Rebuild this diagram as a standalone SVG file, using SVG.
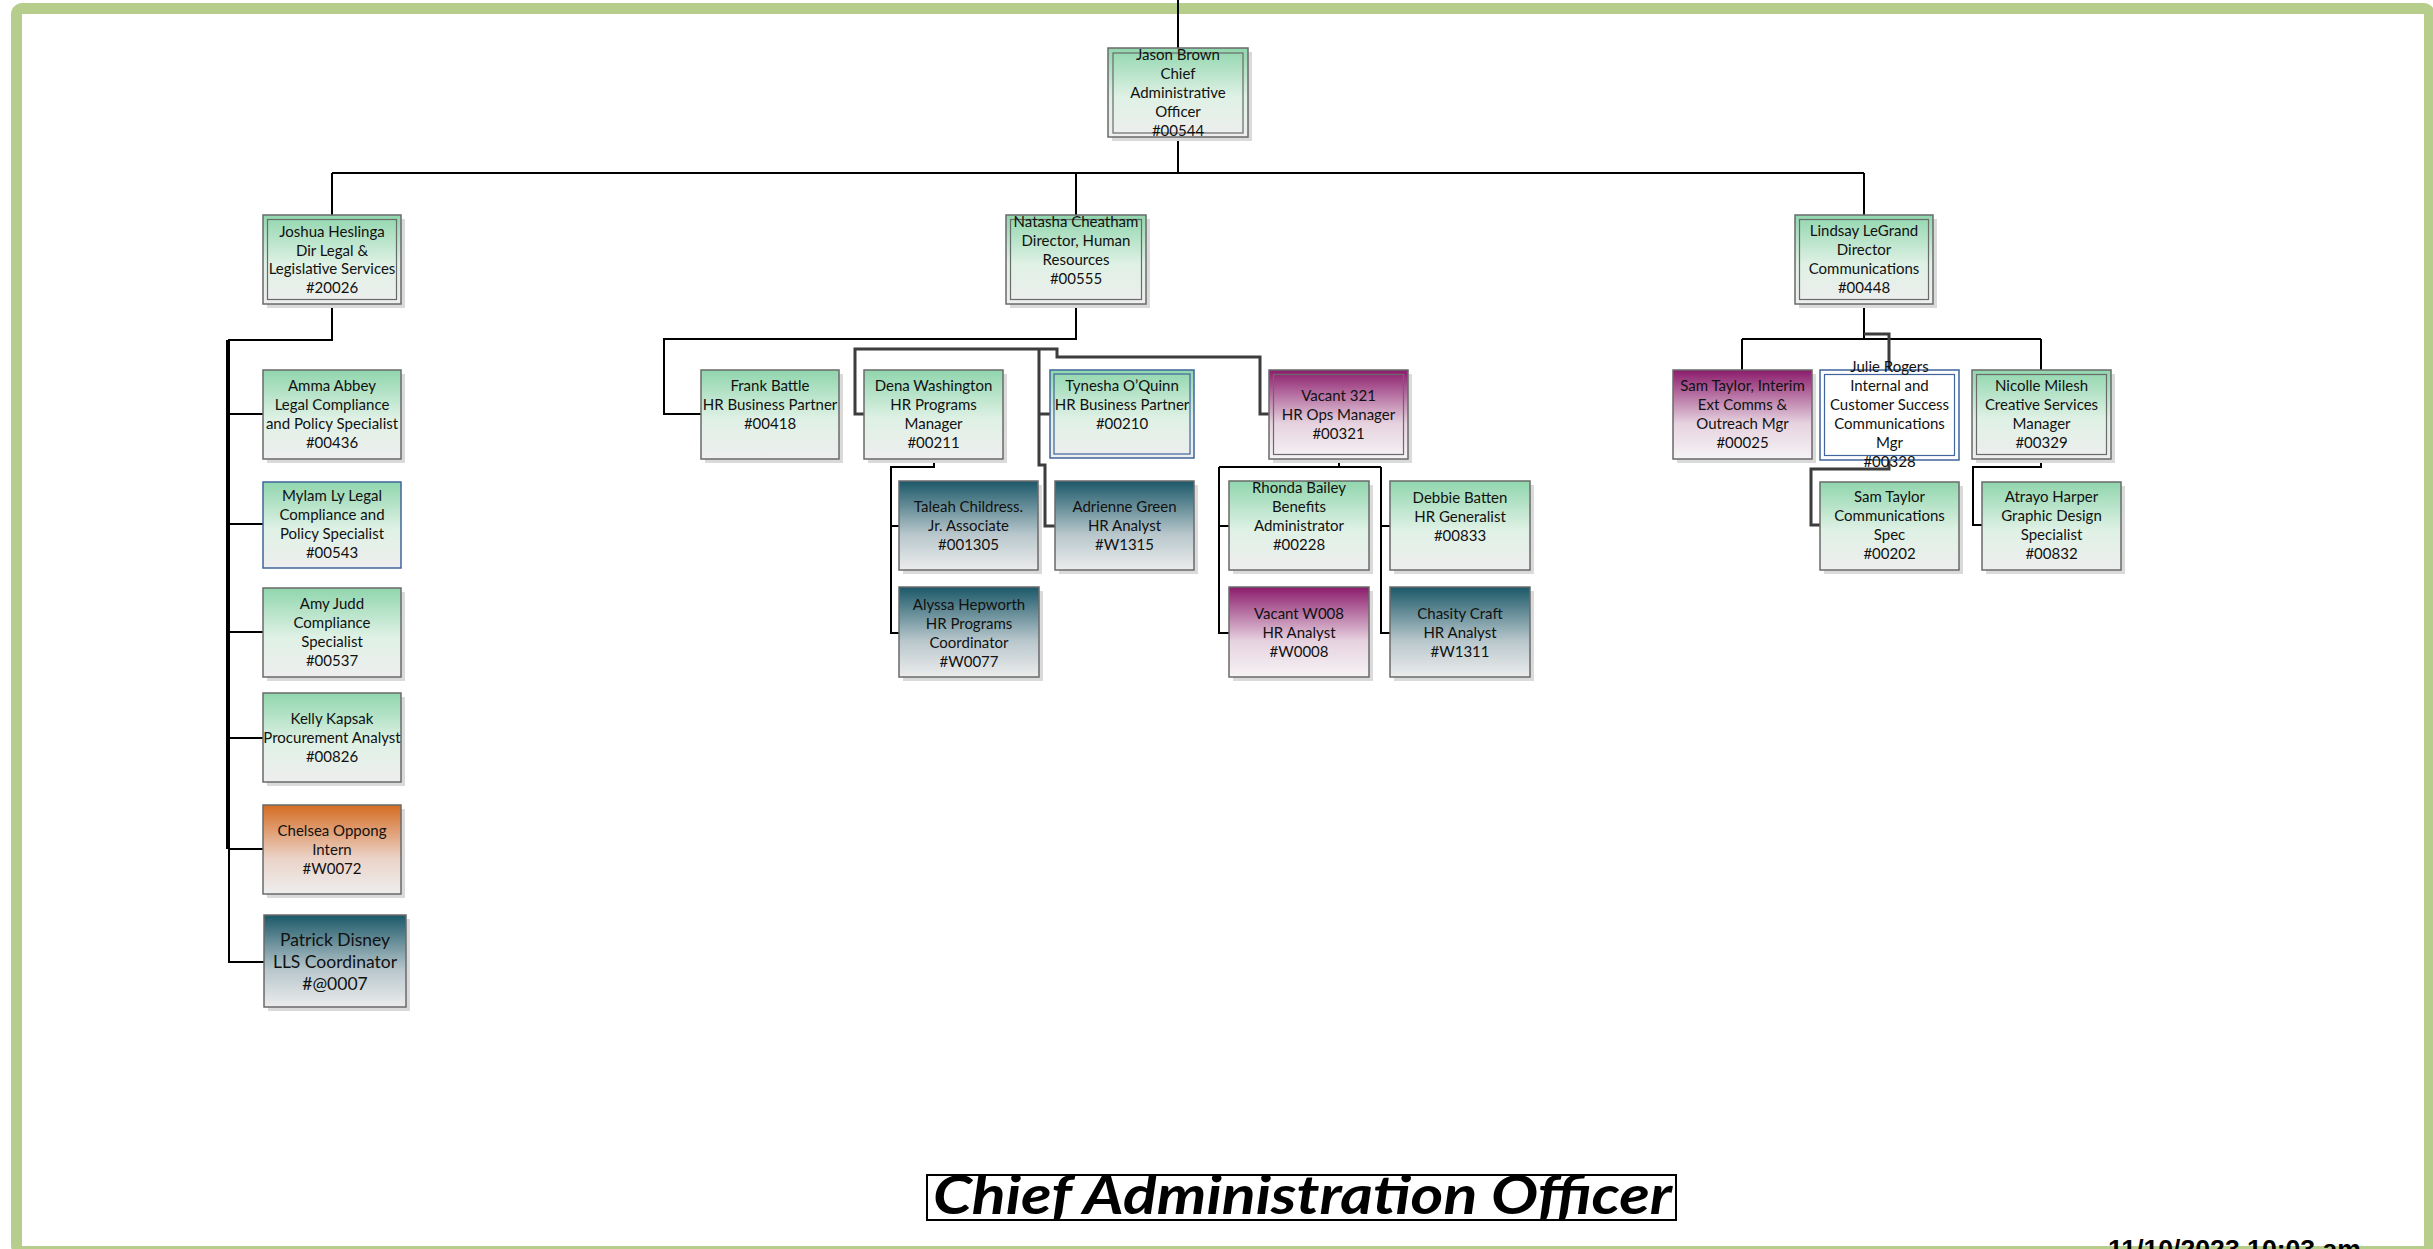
<svg xmlns="http://www.w3.org/2000/svg" width="2433" height="1249" viewBox="0 0 2433 1249">
<defs>
<linearGradient id="gGreen" x1="0" y1="0" x2="0" y2="1"><stop offset="0" stop-color="#90d6ad"/><stop offset="0.55" stop-color="#dff1e5"/><stop offset="1" stop-color="#eeeeee"/></linearGradient>
<linearGradient id="gMag" x1="0" y1="0" x2="0" y2="1"><stop offset="0" stop-color="#8c1b6c"/><stop offset="0.6" stop-color="#e6d2df"/><stop offset="1" stop-color="#f6f3f5"/></linearGradient>
<linearGradient id="gOrange" x1="0" y1="0" x2="0" y2="1"><stop offset="0" stop-color="#d56c22"/><stop offset="0.6" stop-color="#ebd3c8"/><stop offset="1" stop-color="#eeeeee"/></linearGradient>
<linearGradient id="gTeal" x1="0" y1="0" x2="0" y2="1"><stop offset="0" stop-color="#1b5868"/><stop offset="0.6" stop-color="#b8c7cc"/><stop offset="1" stop-color="#ececec"/></linearGradient>
<style>
.sh{fill:#dadada}
.bx{stroke:#6a6a6a;stroke-width:1.5}
.bl{stroke:#3f659c;stroke-width:1.5}
.in{fill:none;stroke:#6a6a6a;stroke-width:1.2}
.inb{fill:none;stroke:#3f659c;stroke-width:1.2}
.t{font-family:Lato,"Liberation Sans",sans-serif;font-size:15px;fill:#111;text-anchor:middle}
.c{fill:none;stroke:#000;stroke-width:2}
.ck{fill:none;stroke:#000;stroke-width:4}
.cg{fill:none;stroke:#3c3c3c;stroke-width:3}
</style>
</defs>
<rect x="0" y="0" width="2433" height="1249" fill="#ffffff"/>
<rect x="16.5" y="8.5" width="2413" height="1243" rx="6" fill="none" stroke="#b7cd8b" stroke-width="11"/>

<g id="connectors">
<path class="c" d="M1178,0 V48 M1178,137 V173 M332,173 H1864 M332,173 V215 M1076,173 V215 M1864,173 V215"/>
<path class="c" stroke-width="3" d="M332,304 V340 H228"/>
<path class="ck" d="M228,340 V849"/>
<path class="c" d="M229,849 V962 H264 M228,414 H263 M228,524 H263 M228,632 H263 M228,738 H263 M228,849 H263"/>
<path class="c" d="M1076,304 V339 H664 V414 H701"/>
<path class="cg" d="M864,414 H855 V349 H1057 V357 H1260 V414 H1269"/>
<path class="cg" d="M1039,349 V465 H1045 V526 H1055 M1039,414 H1050"/>
<path class="c" d="M934,459 V467 H891 V633 H899 M891,526 H899"/>
<path class="c" d="M1339,459 V467 M1219,467 H1381 M1219,467 V633 H1229 M1219,526 H1229 M1381,467 V633 H1390 M1381,526 H1390"/>
<path class="c" d="M1864,304 V339 M1742,339 H2041 M1742,339 V370 M2041,339 V370"/>
<path class="cg" d="M1864,334 H1889 V370"/>
<path class="cg" d="M1889,460 V469 H1811 V525 H1820"/>
<path class="c" d="M2041,459 V467 H1973 V525 H1982"/>
</g>

<g id="jason">
<rect class="sh" x="1112" y="52" width="140" height="89"/>
<rect class="bx" x="1108" y="48" width="140" height="89" fill="url(#gGreen)"/>
<rect class="in" x="1113" y="53" width="130" height="80"/>
<text class="t"><tspan x="1178" y="60">Jason Brown</tspan><tspan x="1178" y="79">Chief</tspan><tspan x="1178" y="98">Administrative</tspan><tspan x="1178" y="117">Officer</tspan><tspan x="1178" y="136">#00544</tspan></text>
</g>

<g id="joshua">
<rect class="sh" x="267" y="219" width="138" height="89"/>
<rect class="bx" x="263" y="215" width="138" height="89" fill="url(#gGreen)"/>
<rect class="in" x="267.5" y="219.5" width="129" height="80"/>
<text class="t"><tspan x="332" y="237">Joshua Heslinga</tspan><tspan x="332" y="256">Dir Legal &amp;</tspan><tspan x="332" y="274">Legislative Services</tspan><tspan x="332" y="293">#20026</tspan></text>
</g>

<g id="amma">
<rect class="sh" x="267" y="374" width="138" height="89"/>
<rect class="bx" x="263" y="370" width="138" height="89" fill="url(#gGreen)"/>
<text class="t"><tspan x="332" y="391">Amma Abbey</tspan><tspan x="332" y="410">Legal Compliance</tspan><tspan x="332" y="429">and Policy Specialist</tspan><tspan x="332" y="448">#00436</tspan></text>
</g>

<g id="mylam">
<rect class="bl" x="263" y="482" width="138" height="86" fill="url(#gGreen)"/>
<text class="t"><tspan x="332" y="501">Mylam Ly Legal</tspan><tspan x="332" y="520">Compliance and</tspan><tspan x="332" y="539">Policy Specialist</tspan><tspan x="332" y="558">#00543</tspan></text>
</g>

<g id="amy">
<rect class="sh" x="267" y="592" width="138" height="89"/>
<rect class="bx" x="263" y="588" width="138" height="89" fill="url(#gGreen)"/>
<text class="t"><tspan x="332" y="609">Amy Judd</tspan><tspan x="332" y="628">Compliance</tspan><tspan x="332" y="647">Specialist</tspan><tspan x="332" y="666">#00537</tspan></text>
</g>

<g id="kelly">
<rect class="sh" x="267" y="697" width="138" height="89"/>
<rect class="bx" x="263" y="693" width="138" height="89" fill="url(#gGreen)"/>
<text class="t"><tspan x="332" y="724">Kelly Kapsak</tspan><tspan x="332" y="743">Procurement Analyst</tspan><tspan x="332" y="762">#00826</tspan></text>
</g>

<g id="chelsea">
<rect class="sh" x="267" y="809" width="138" height="89"/>
<rect class="bx" x="263" y="805" width="138" height="89" fill="url(#gOrange)"/>
<text class="t"><tspan x="332" y="836">Chelsea Oppong</tspan><tspan x="332" y="855">Intern</tspan><tspan x="332" y="874">#W0072</tspan></text>
</g>

<g id="patrick">
<rect class="sh" x="268" y="919" width="142" height="92"/>
<rect class="bx" x="264" y="915" width="142" height="92" fill="url(#gTeal)"/>
<text class="t" style="font-size:17.5px"><tspan x="335" y="946">Patrick Disney</tspan><tspan x="335" y="968">LLS Coordinator</tspan><tspan x="335" y="990">#@0007</tspan></text>
</g>

<g id="natasha">
<rect class="sh" x="1010" y="219" width="140" height="89"/>
<rect class="bx" x="1006" y="215" width="140" height="89" fill="url(#gGreen)"/>
<rect class="in" x="1010.5" y="219.5" width="131" height="80"/>
<text class="t"><tspan x="1076" y="227">Natasha Cheatham</tspan><tspan x="1076" y="246">Director, Human</tspan><tspan x="1076" y="265">Resources</tspan><tspan x="1076" y="284">#00555</tspan></text>
</g>

<g id="frank">
<rect class="sh" x="705" y="374" width="138" height="89"/>
<rect class="bx" x="701" y="370" width="138" height="89" fill="url(#gGreen)"/>
<text class="t"><tspan x="770" y="391">Frank Battle</tspan><tspan x="770" y="410">HR Business Partner</tspan><tspan x="770" y="429">#00418</tspan></text>
</g>

<g id="dena">
<rect class="sh" x="868" y="374" width="139" height="89"/>
<rect class="bx" x="864" y="370" width="139" height="89" fill="url(#gGreen)"/>
<text class="t"><tspan x="933.5" y="391">Dena Washington</tspan><tspan x="933.5" y="410">HR Programs</tspan><tspan x="933.5" y="429">Manager</tspan><tspan x="933.5" y="448">#00211</tspan></text>
</g>

<g id="tynesha">
<rect class="bl" x="1050" y="370" width="144" height="88" fill="url(#gGreen)"/>
<rect class="inb" x="1054" y="374" width="136" height="80"/>
<text class="t"><tspan x="1122" y="391">Tynesha O’Quinn</tspan><tspan x="1122" y="410">HR Business Partner</tspan><tspan x="1122" y="429">#00210</tspan></text>
</g>

<g id="vacant321">
<rect class="sh" x="1273" y="374" width="139" height="89"/>
<rect class="bx" x="1269" y="370" width="139" height="89" fill="url(#gMag)"/>
<rect class="in" x="1273.5" y="374.5" width="130" height="80"/>
<text class="t"><tspan x="1338.5" y="401">Vacant 321</tspan><tspan x="1338.5" y="420">HR Ops Manager</tspan><tspan x="1338.5" y="439">#00321</tspan></text>
</g>

<g id="taleah">
<rect class="sh" x="903" y="485" width="139" height="89"/>
<rect class="bx" x="899" y="481" width="139" height="89" fill="url(#gTeal)"/>
<text class="t"><tspan x="968.5" y="512">Taleah Childress.</tspan><tspan x="968.5" y="531">Jr. Associate</tspan><tspan x="968.5" y="550">#001305</tspan></text>
</g>

<g id="adrienne">
<rect class="sh" x="1059" y="485" width="139" height="89"/>
<rect class="bx" x="1055" y="481" width="139" height="89" fill="url(#gTeal)"/>
<text class="t"><tspan x="1124.5" y="512">Adrienne Green</tspan><tspan x="1124.5" y="531">HR Analyst</tspan><tspan x="1124.5" y="550">#W1315</tspan></text>
</g>

<g id="alyssa">
<rect class="sh" x="903" y="591" width="140" height="90"/>
<rect class="bx" x="899" y="587" width="140" height="90" fill="url(#gTeal)"/>
<text class="t"><tspan x="969" y="610">Alyssa Hepworth</tspan><tspan x="969" y="629">HR Programs</tspan><tspan x="969" y="648">Coordinator</tspan><tspan x="969" y="667">#W0077</tspan></text>
</g>

<g id="rhonda">
<rect class="sh" x="1233" y="485" width="140" height="89"/>
<rect class="bx" x="1229" y="481" width="140" height="89" fill="url(#gGreen)"/>
<text class="t"><tspan x="1299" y="493">Rhonda Bailey</tspan><tspan x="1299" y="512">Benefits</tspan><tspan x="1299" y="531">Administrator</tspan><tspan x="1299" y="550">#00228</tspan></text>
</g>

<g id="debbie">
<rect class="sh" x="1394" y="485" width="140" height="89"/>
<rect class="bx" x="1390" y="481" width="140" height="89" fill="url(#gGreen)"/>
<text class="t"><tspan x="1460" y="503">Debbie Batten</tspan><tspan x="1460" y="522">HR Generalist</tspan><tspan x="1460" y="541">#00833</tspan></text>
</g>

<g id="vacantw008">
<rect class="sh" x="1233" y="591" width="140" height="90"/>
<rect class="bx" x="1229" y="587" width="140" height="90" fill="url(#gMag)"/>
<text class="t"><tspan x="1299" y="619">Vacant W008</tspan><tspan x="1299" y="638">HR Analyst</tspan><tspan x="1299" y="657">#W0008</tspan></text>
</g>

<g id="chasity">
<rect class="sh" x="1394" y="591" width="140" height="90"/>
<rect class="bx" x="1390" y="587" width="140" height="90" fill="url(#gTeal)"/>
<text class="t"><tspan x="1460" y="619">Chasity Craft</tspan><tspan x="1460" y="638">HR Analyst</tspan><tspan x="1460" y="657">#W1311</tspan></text>
</g>

<g id="lindsay">
<rect class="sh" x="1799" y="219" width="138" height="89"/>
<rect class="bx" x="1795" y="215" width="138" height="89" fill="url(#gGreen)"/>
<rect class="in" x="1799.5" y="219.5" width="129" height="80"/>
<text class="t"><tspan x="1864" y="236">Lindsay LeGrand</tspan><tspan x="1864" y="255">Director</tspan><tspan x="1864" y="274">Communications</tspan><tspan x="1864" y="293">#00448</tspan></text>
</g>

<g id="samInterim">
<rect class="sh" x="1677" y="374" width="139" height="89"/>
<rect class="bx" x="1673" y="370" width="139" height="89" fill="url(#gMag)"/>
<text class="t"><tspan x="1742.5" y="391">Sam Taylor, Interim</tspan><tspan x="1742.5" y="410">Ext Comms &amp;</tspan><tspan x="1742.5" y="429">Outreach Mgr</tspan><tspan x="1742.5" y="448">#00025</tspan></text>
</g>

<g id="julie">
<rect class="bl" x="1820" y="370" width="139" height="90" fill="#ffffff"/>
<rect class="inb" x="1824.5" y="374.5" width="130" height="81"/>
<text class="t"><tspan x="1889.5" y="372">Julie Rogers</tspan><tspan x="1889.5" y="391">Internal and</tspan><tspan x="1889.5" y="410">Customer Success</tspan><tspan x="1889.5" y="429">Communications</tspan><tspan x="1889.5" y="448">Mgr</tspan><tspan x="1889.5" y="467">#00328</tspan></text>
</g>

<g id="nicolle">
<rect class="sh" x="1976" y="374" width="139" height="89"/>
<rect class="bx" x="1972" y="370" width="139" height="89" fill="url(#gGreen)"/>
<rect class="in" x="1976.5" y="374.5" width="130" height="80"/>
<text class="t"><tspan x="2041.5" y="391">Nicolle Milesh</tspan><tspan x="2041.5" y="410">Creative Services</tspan><tspan x="2041.5" y="429">Manager</tspan><tspan x="2041.5" y="448">#00329</tspan></text>
</g>

<g id="samSpec">
<rect class="sh" x="1824" y="486" width="139" height="88"/>
<rect class="bx" x="1820" y="482" width="139" height="88" fill="url(#gGreen)"/>
<text class="t"><tspan x="1889.5" y="502">Sam Taylor</tspan><tspan x="1889.5" y="521">Communications</tspan><tspan x="1889.5" y="540">Spec</tspan><tspan x="1889.5" y="559">#00202</tspan></text>
</g>

<g id="atrayo">
<rect class="sh" x="1986" y="486" width="139" height="88"/>
<rect class="bx" x="1982" y="482" width="139" height="88" fill="url(#gGreen)"/>
<text class="t"><tspan x="2051.5" y="502">Atrayo Harper</tspan><tspan x="2051.5" y="521">Graphic Design</tspan><tspan x="2051.5" y="540">Specialist</tspan><tspan x="2051.5" y="559">#00832</tspan></text>
</g>

<g id="title">
<rect x="927" y="1175" width="749" height="45" fill="#ffffff" stroke="#000" stroke-width="2"/>
<text x="933" y="1214" textLength="739" lengthAdjust="spacingAndGlyphs" style="font-family:Lato,'Liberation Sans',sans-serif;font-size:54px;font-weight:bold;font-style:italic;fill:#000">Chief Administration Officer</text>
</g>

<text id="date" x="2108" y="1258" textLength="253" lengthAdjust="spacingAndGlyphs" style="font-family:'Liberation Sans',Arial,sans-serif;font-size:26px;font-weight:bold;fill:#000">11/10/2023 10:03 am</text>
</svg>
